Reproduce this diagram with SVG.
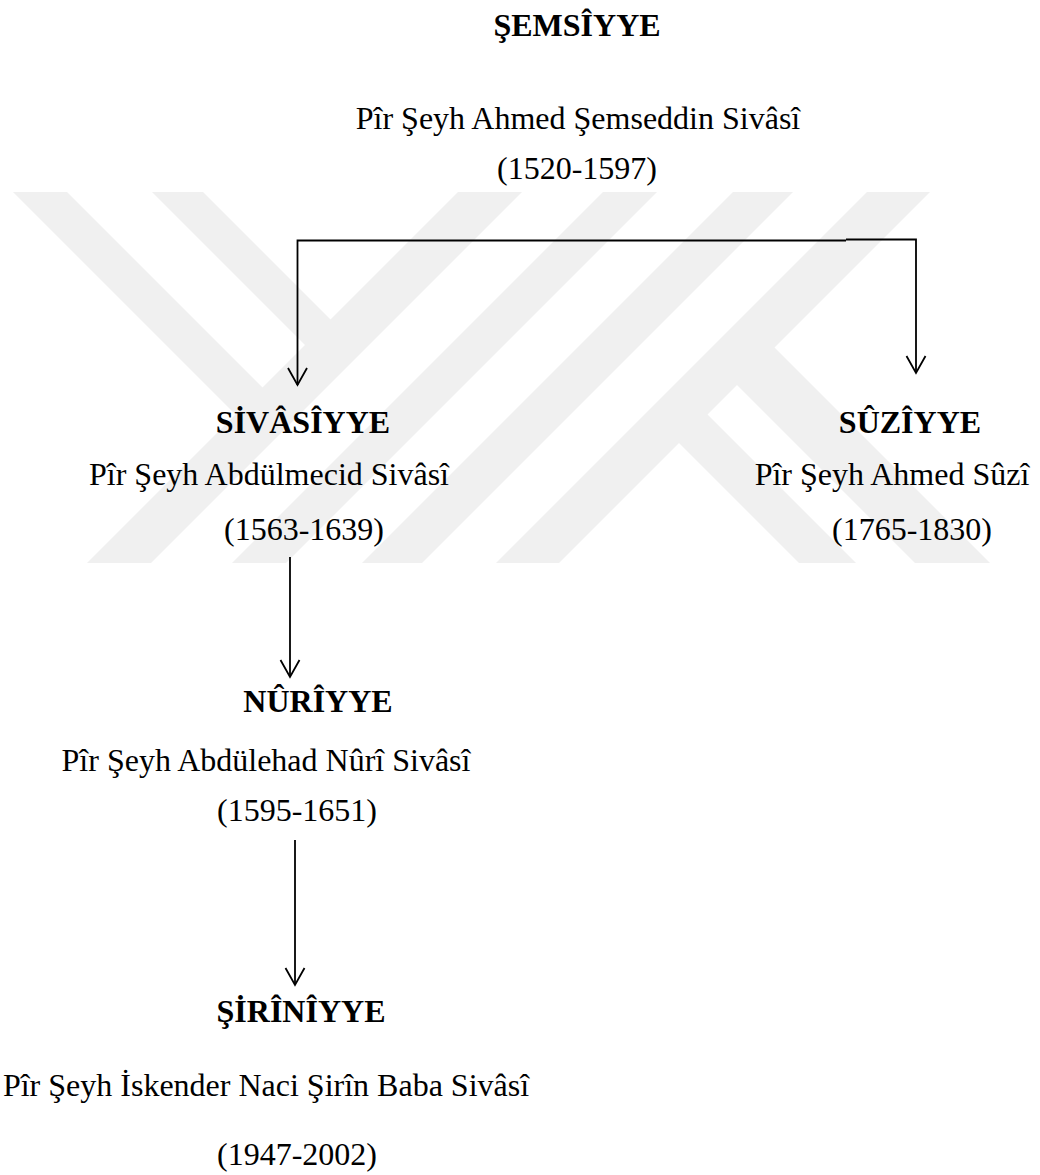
<svg xmlns="http://www.w3.org/2000/svg" width="1040" height="1175" viewBox="0 0 1040 1175">
<defs>
<style>
.t{font-family:"Liberation Serif","Times New Roman",serif;font-size:32px;fill:#000;text-anchor:middle}
.b{font-weight:bold}
.wm{fill:#f0f0f0;stroke:none}
.ln{fill:none;stroke:#000;stroke-width:1.8}
</style>
<marker id="arr" markerUnits="userSpaceOnUse" orient="auto" overflow="visible" refX="0" refY="0" markerWidth="1" markerHeight="1">
<path d="M-17,-9.5 L0,0 L-17,9.5" fill="none" stroke="#000" stroke-width="1.8"/>
</marker>
</defs>
<rect width="1040" height="1175" fill="#fff"/>
<g id="watermark">
<polygon class="wm" points="458,192 522,192 151,563 87,563"/>
<polygon class="wm" points="603,192 657,192 286,563 232,563"/>
<polygon class="wm" points="733,192 793,192 422,563 362,563"/>
<polygon class="wm" points="867,192 930,192 559,563 496,563"/>
<polygon class="wm" points="13,192 67,192 266,391 240,419"/>
<polygon class="wm" points="152,192 203,192 335,324 309,349"/>
<polygon class="wm" points="675,439 703,410 856,563 799,563"/>
<polygon class="wm" points="733,381 770,343 990,563 915,563"/>
</g>
<g id="connectors">
<path class="ln" d="M846,240.5 L297.5,240.5 L297.5,385" marker-end="url(#arr)"/>
<path class="ln" d="M846,239.5 L916,239.5 L916,373" marker-end="url(#arr)"/>
<path class="ln" d="M290,557 L290,677" marker-end="url(#arr)"/>
<path class="ln" d="M295,840 L295,985" marker-end="url(#arr)"/>
</g>
<g id="node-semsiyye">
<text class="t b" x="577" y="36">ŞEMSÎYYE</text>
<text class="t" x="578" y="129">Pîr Şeyh Ahmed Şemseddin Sivâsî</text>
<text class="t" x="577" y="179">(1520-1597)</text>
</g>
<g id="node-sivasiyye">
<text class="t b" x="303" y="433">SİVÂSÎYYE</text>
<text class="t" x="269" y="485">Pîr Şeyh Abdülmecid Sivâsî</text>
<text class="t" x="304" y="540">(1563-1639)</text>
</g>
<g id="node-suziyye">
<text class="t b" x="910" y="433">SÛZÎYYE</text>
<text class="t" x="892" y="485">Pîr Şeyh Ahmed Sûzî</text>
<text class="t" x="912" y="540">(1765-1830)</text>
</g>
<g id="node-nuriyye">
<text class="t b" x="318" y="712">NÛRÎYYE</text>
<text class="t" x="266" y="771">Pîr Şeyh Abdülehad Nûrî Sivâsî</text>
<text class="t" x="297" y="821">(1595-1651)</text>
</g>
<g id="node-siriniyye">
<text class="t b" x="301" y="1022">ŞİRÎNÎYYE</text>
<text class="t" x="266" y="1096">Pîr Şeyh İskender Naci Şirîn Baba Sivâsî</text>
<text class="t" x="297" y="1165">(1947-2002)</text>
</g>
</svg>
